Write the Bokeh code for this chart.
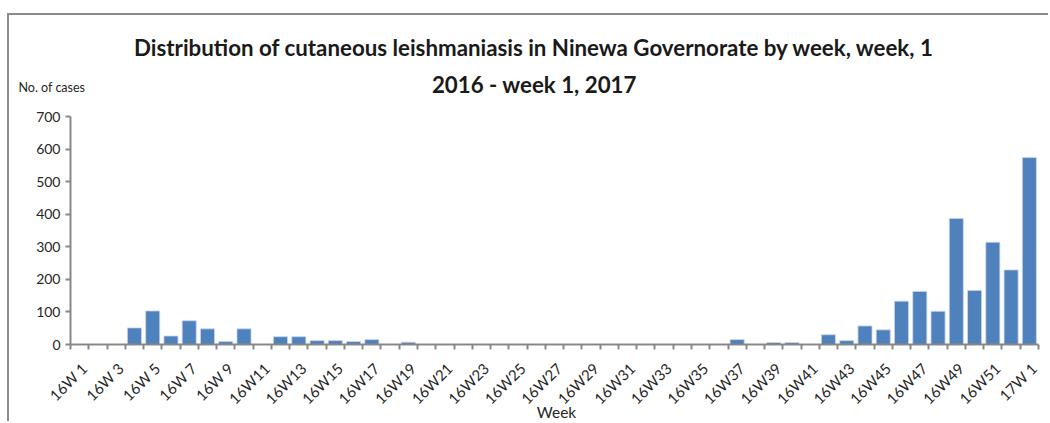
import math
from bokeh.plotting import figure
from bokeh.models import FixedTicker, Label, Range1d, ColumnDataSource
from bokeh.embed import file_html
from bokeh.resources import INLINE

weeks = ["16W 1", "16W 2", "16W 3", "16W 4", "16W 5", "16W 6", "16W 7", "16W 8", "16W 9",
         "16W10", "16W11", "16W12", "16W13", "16W14", "16W15", "16W16", "16W17", "16W18",
         "16W19", "16W20", "16W21", "16W22", "16W23", "16W24", "16W25", "16W26", "16W27",
         "16W28", "16W29", "16W30", "16W31", "16W32", "16W33", "16W34", "16W35", "16W36",
         "16W37", "16W38", "16W39", "16W40", "16W41", "16W42", "16W43", "16W44", "16W45",
         "16W46", "16W47", "16W48", "16W49", "16W50", "16W51", "16W52", "17W 1"]
cases = [0, 0, 0, 51, 103, 26, 73, 48, 9, 48, 0, 24, 24, 12, 12, 9, 15, 0,
         7, 0, 0, 0, 0, 0, 0, 0, 0, 0, 0, 0, 0, 0, 0, 0, 0, 0,
         15, 0, 6, 6, 0, 30, 12, 57, 45, 133, 163, 102, 387, 166, 314, 229, 574]
y_ticks = [0, 100, 200, 300, 400, 500, 600, 700]
title_lines = ["Distribution of cutaneous leishmaniasis in Ninewa Governorate by week, week, 1",
               "2016 - week 1, 2017"]
y_title = "No. of cases"
x_title = "Week"

n = len(weeks)
idx = list(range(n))
src = ColumnDataSource(dict(x=idx, y=cases))

# The frame fills the whole canvas; the axes are pinned inside it so that the
# titles and labels around them are drawn in the same (unclipped) area.
W, H = 1041, 408
AX_W, AX_H = 968, 228                 # pixel size of the axes box
PAD_L, PAD_R, PAD_T, PAD_B = 61, 12, 101, 79
cat_px = AX_W / n
y_max = y_ticks[-1]
upx = y_max / AX_H                    # data units per pixel (y)
x_rng = Range1d(-0.5 - PAD_L / cat_px, n - 0.5 + PAD_R / cat_px)
y_rng = Range1d(-PAD_B * upx, y_max + PAD_T * upx)

p = figure(width=W, height=H, output_backend="svg", toolbar_location=None,
           x_range=x_rng, y_range=y_rng,
           min_border=0, min_border_left=0, min_border_right=0,
           min_border_top=0, min_border_bottom=0)
p.margin = (13, 0, 0, 7)
p.styles = {"border-left": "2px solid #8c8c8c", "border-top": "2px solid #8c8c8c"}
p.outline_line_color = None
p.xgrid.visible = False
p.ygrid.visible = False

p.vbar(x="x", top="y", width=0.77, source=src, fill_color="#4F81BD",
       line_color="#c9d7ea", line_width=0.8)

AX = "#878787"
TXT = "#262626"
FONT = "Lato"

# x axis: labels at every other category (nudged right like the rotated
# labels of the original), tick marks at category boundaries
LBL_SHIFT = 0.25
xa = p.xaxis[0]
xa.fixed_location = 0
xa.bounds = (-0.5, n - 0.5)
xa.ticker = FixedTicker(ticks=[i + LBL_SHIFT for i in idx if i % 2 == 0],
                        minor_ticks=[i - 0.5 for i in range(n + 1)])
xa.major_label_overrides = {i + LBL_SHIFT: weeks[i] for i in idx if i % 2 == 0}
xa.major_label_orientation = math.pi / 4
xa.major_tick_out = 0
xa.major_tick_in = 0
xa.minor_tick_out = 5
xa.minor_tick_in = 0
xa.minor_tick_line_color = AX
xa.minor_tick_line_width = 2
xa.axis_line_color = AX
xa.axis_line_width = 2
xa.major_label_text_font = FONT
xa.major_label_text_font_size = "15px"
xa.major_label_text_color = TXT
xa.major_label_standoff = 16

ya = p.yaxis[0]
ya.fixed_location = -0.5
ya.bounds = (0, y_max)
ya.ticker = FixedTicker(ticks=y_ticks, minor_ticks=[])
ya.major_tick_out = 5
ya.major_tick_in = 0
ya.major_tick_line_color = AX
ya.major_tick_line_width = 2
ya.axis_line_color = AX
ya.axis_line_width = 2
ya.major_label_text_font = FONT
ya.major_label_text_font_size = "14px"
ya.major_label_text_color = TXT
ya.major_label_standoff = 5

# x title below the rotated labels
p.add_layout(Label(x=(n - 1) / 2, y=0, x_offset=2, y_offset=-67, text=x_title,
                   text_font=FONT, text_font_size="15.5px", text_color=TXT,
                   text_align="center", text_baseline="middle"))
# y title (horizontal, above the axis)
p.add_layout(Label(x=-0.5, y=y_max, x_offset=-52, y_offset=29, text=y_title,
                   text_font=FONT, text_font_size="12.5px", text_color=TXT,
                   text_align="left", text_baseline="middle"))
# chart title (two centred lines)
cx = 24.9
p.add_layout(Label(x=cx, y=y_max, y_offset=69, text=title_lines[0],
                   text_font=FONT, text_font_size="22.3px", text_font_style="bold",
                   text_color="#1a1a1a", text_align="center", text_baseline="middle"))
p.add_layout(Label(x=cx, y=y_max, y_offset=32, text=title_lines[1],
                   text_font=FONT, text_font_size="22.3px", text_font_style="bold",
                   text_color="#1a1a1a", text_align="center", text_baseline="middle"))

open("out.html", "w").write(file_html(p, INLINE))
